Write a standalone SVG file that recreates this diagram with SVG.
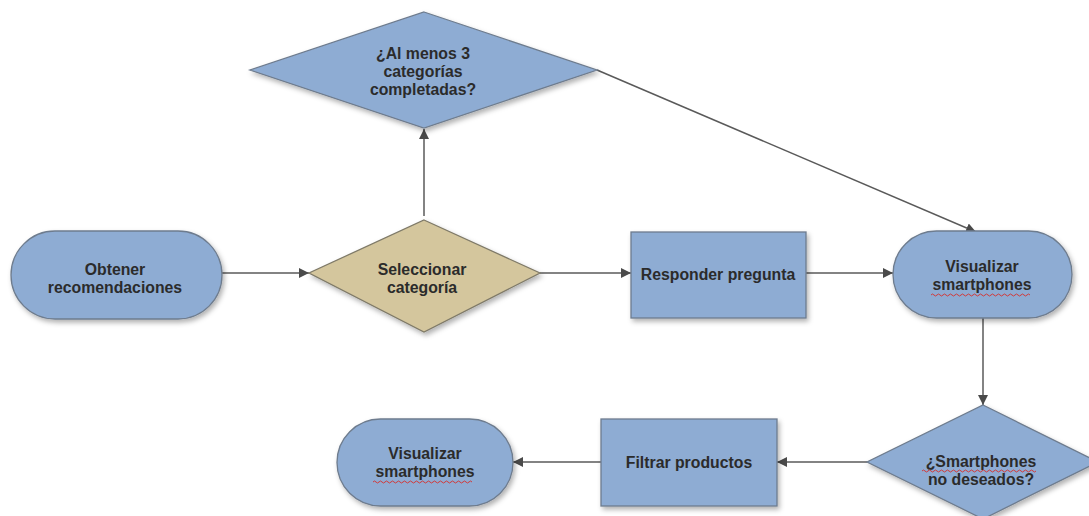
<svg xmlns="http://www.w3.org/2000/svg" width="1089" height="516" viewBox="0 0 1089 516">
<defs>
<filter id="sh" x="-10%" y="-10%" width="125%" height="130%">
<feDropShadow dx="2" dy="3" stdDeviation="2.5" flood-color="#000" flood-opacity="0.3"/>
</filter>
<marker id="arr" viewBox="0 0 10 10" refX="10" refY="5" markerWidth="10" markerHeight="10" markerUnits="userSpaceOnUse" orient="auto">
<path d="M0,0 L10,5 L0,10 Z" fill="#4a4a4a"/>
</marker>
<style>
.blue{fill:#8eacd3;stroke:#6e7c8e;stroke-width:1.3;filter:url(#sh)}
.tan{fill:#d4c69d;stroke:#7f7a68;stroke-width:1.3;filter:url(#sh)}
.t{font-family:"Liberation Sans",Arial,sans-serif;font-weight:bold;font-size:15.8px;fill:#2b2b2b;text-anchor:middle}
.c{fill:none;stroke:#5a5a5a;stroke-width:1.5;marker-end:url(#arr)}
.sq{fill:none;stroke:#d23a3a;stroke-width:1}
</style>
</defs>
<rect width="1089" height="516" fill="#ffffff"/>
<g id="connectors">
<path class="c" d="M222,273 L309,273"/>
<path class="c" d="M424,216 L424,129"/>
<path class="c" d="M540,273 L631,273"/>
<path class="c" d="M806,273 L893,273"/>
<path class="c" d="M597,70 L976,232"/>
<path class="c" d="M983,318 L983,405"/>
<path class="c" d="M867,462 L777,462"/>
<path class="c" d="M601,462 L513,462"/>
</g>
<g id="n_decision_top">
<polygon class="blue" points="424,12 597,70 424,128 250,70"/>
<text class="t" x="423" y="59">¿Al menos 3</text>
<text class="t" x="423" y="77">categorías</text>
<text class="t" x="423" y="95">completadas?</text>
</g>
<g id="n_obtener">
<rect class="blue" x="11" y="231" width="211" height="88" rx="44" ry="44"/>
<text class="t" x="115" y="275">Obtener</text>
<text class="t" x="115" y="293">recomendaciones</text>
</g>
<g id="n_seleccionar">
<polygon class="tan" points="424,220 540,273 424,332 309,273"/>
<text class="t" x="422" y="275">Seleccionar</text>
<text class="t" x="422" y="293">categoría</text>
</g>
<g id="n_responder">
<rect class="blue" x="631" y="232" width="175" height="86"/>
<text class="t" x="718" y="280">Responder pregunta</text>
</g>
<g id="n_visualizar1">
<rect class="blue" x="893" y="231" width="179" height="87" rx="43.5" ry="43.5"/>
<text class="t" x="982" y="272">Visualizar</text>
<text class="t" x="982" y="290">smartphones</text>
<path class="sq" d="M931,295 q1.5,-2 3,0 t3,0 t3,0 t3,0 t3,0 t3,0 t3,0 t3,0 t3,0 t3,0 t3,0 t3,0 t3,0 t3,0 t3,0 t3,0 t3,0 t3,0 t3,0 t3,0 t3,0 t3,0 t3,0 t3,0 t3,0 t3,0 t3,0 t3,0 t3,0 t3,0 t3,0 t3,0 t3,0"/>
</g>
<g id="n_decision_bottom">
<polygon class="blue" points="983,405 1098,462 983,519 867,462"/>
<text class="t" x="981" y="467">¿Smartphones</text>
<text class="t" x="981" y="485">no deseados?</text>
<path class="sq" d="M922,471 q1.5,-2 3,0 t3,0 t3,0 t3,0 t3,0 t3,0 t3,0 t3,0 t3,0 t3,0 t3,0 t3,0 t3,0 t3,0 t3,0 t3,0 t3,0 t3,0 t3,0 t3,0 t3,0 t3,0 t3,0 t3,0 t3,0 t3,0 t3,0 t3,0 t3,0 t3,0 t3,0 t3,0 t3,0 t3,0 t3,0 t3,0 t3,0 t3,0"/>
</g>
<g id="n_filtrar">
<rect class="blue" x="601" y="419" width="176" height="87"/>
<text class="t" x="689" y="468">Filtrar productos</text>
</g>
<g id="n_visualizar2">
<rect class="blue" x="337" y="419" width="176" height="87" rx="43.5" ry="43.5"/>
<text class="t" x="425" y="459">Visualizar</text>
<text class="t" x="425" y="477">smartphones</text>
<path class="sq" d="M373,482 q1.5,-2 3,0 t3,0 t3,0 t3,0 t3,0 t3,0 t3,0 t3,0 t3,0 t3,0 t3,0 t3,0 t3,0 t3,0 t3,0 t3,0 t3,0 t3,0 t3,0 t3,0 t3,0 t3,0 t3,0 t3,0 t3,0 t3,0 t3,0 t3,0 t3,0 t3,0 t3,0 t3,0 t3,0"/>
</g>
</svg>
